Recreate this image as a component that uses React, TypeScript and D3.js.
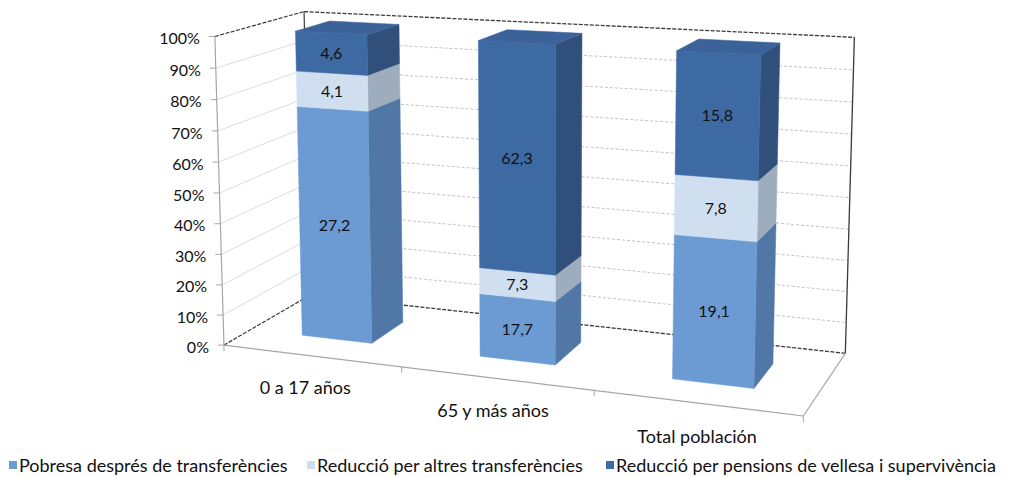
import React from 'react';
import * as d3 from 'd3';

// ---- data ----
const categories = ['0 a 17 años', '65 y más años', 'Total población'];
const seriesNames = [
  'Pobresa després de transferències',
  'Reducció per altres transferències',
  'Reducció per pensions de vellesa i supervivència',
];
const pobresa = [27.2, 17.7, 19.1];
const altres = [4.1, 7.3, 7.8];
const pensions = [4.6, 62.3, 15.8];
const yTicks = [0, 10, 20, 30, 40, 50, 60, 70, 80, 90, 100];

// ---- style ----
const frontColors = ['#6b9bd2', '#cfdff0', '#3e6aa4'];
const sideColors = ['#5077a6', '#9dadbe', '#30507b'];
const topColors = ['#79a7db', '#dfe9f4', '#3b6399'];
const FONT = 'Lato, "Open Sans", sans-serif';

// Camera calibration: world box corners (X: category axis 0..1, Y: value 0..1, Z: depth 0 front..1 back) -> screen
const calib: number[][] = [
  [0, 0, 0, 227, 343],
  [0, 1, 0, 212, 37],
  [0, 0.5, 0, 219.5, 192],
  [0, 1, 1, 307, 11],
  [0, 0, 1, 307, 298],
  [1, 1, 1, 854, 38],
  [1, 0, 1, 846, 350],
  [1, 0, 0, 803, 419],
];

function fitProjection(pts: number[][]) {
  const A: number[][] = [];
  const b: number[] = [];
  for (const [X, Y, Z, u, v] of pts) {
    A.push([X, Y, Z, 1, 0, 0, 0, 0, -u * X, -u * Y, -u * Z]);
    b.push(u);
    A.push([0, 0, 0, 0, X, Y, Z, 1, -v * X, -v * Y, -v * Z]);
    b.push(v);
  }
  const n = 11;
  const M: number[][] = [];
  for (let i = 0; i < n; i++) {
    const row: number[] = [];
    for (let j = 0; j < n; j++) {
      let s = 0;
      for (let k = 0; k < A.length; k++) s += A[k][i] * A[k][j];
      row.push(s);
    }
    let s = 0;
    for (let k = 0; k < A.length; k++) s += A[k][i] * b[k];
    row.push(s);
    M.push(row);
  }
  for (let c = 0; c < n; c++) {
    let p = c;
    for (let r = c + 1; r < n; r++) if (Math.abs(M[r][c]) > Math.abs(M[p][c])) p = r;
    [M[c], M[p]] = [M[p], M[c]];
    for (let r = 0; r < n; r++) {
      if (r === c) continue;
      const f = M[r][c] / M[c][c];
      for (let k = c; k <= n; k++) M[r][k] -= f * M[c][k];
    }
  }
  const P = M.map((row, i) => row[n] / row[i]);
  return (X: number, Y: number, Z: number): [number, number] => {
    const w = P[8] * X + P[9] * Y + P[10] * Z + 1;
    return [
      (P[0] * X + P[1] * Y + P[2] * Z + P[3]) / w,
      (P[4] * X + P[5] * Y + P[6] * Z + P[7]) / w,
    ];
  };
}

const proj = fitProjection(calib);

const xBand = d3.scaleBand<string>().domain(categories).range([0, 1]).paddingInner(0.6).paddingOuter(0.3);
const yScale = d3.scaleLinear().domain([0, 100]).range([0, 1]);
const zFront = 0.3;
const zBack = 0.7;

const pts = (arr: [number, number, number][]) =>
  arr.map((p) => proj(p[0], p[1], p[2]).map((v) => v.toFixed(2)).join(',')).join(' ');

const line = (a: [number, number, number], b: [number, number, number]) => {
  const p = proj(...a);
  const q = proj(...b);
  return { x1: p[0], y1: p[1], x2: q[0], y2: q[1] };
};

export default function App() {
  const seriesValues = [pobresa, altres, pensions];
  const stack = d3
    .stack<number>()
    .keys([0, 1, 2] as any)
    .value((i: number, k: any) => seriesValues[k][i] / (pobresa[i] + altres[i] + pensions[i]) * 100);
  const stacked = stack(categories.map((_, i) => i));

  const fmt = (v: number) => v.toFixed(1).replace('.', ',');

  return (
    <svg width={1010} height={477} style={{ position: 'absolute', left: 0, top: 0, background: '#fff' }}>
      {/* grid lines */}
      {yTicks.map((t) => {
        const y = yScale(t);
        return (
          <g key={'g' + t}>
            {t > 0 && t < 100 && (
              <line {...line([0, y, 1], [1, y, 1])} stroke="#c4c4c4" strokeWidth={1} strokeDasharray="3,2" />
            )}
            {t > 0 && t < 100 && <line {...line([0, y, 0], [0, y, 1])} stroke="#d6dde6" strokeWidth={1} />}
          </g>
        );
      })}
      {/* wall outlines */}
      <line {...line([0, 1, 1], [1, 1, 1])} stroke="#3a3a3a" strokeWidth={1.3} strokeDasharray="4,1.5" />
      <line {...line([1, 1, 1], [1, 0, 1])} stroke="#3a3a3a" strokeWidth={1.3} />
      <line {...line([1, 0, 1], [0, 0, 1])} stroke="#3a3a3a" strokeWidth={1.3} strokeDasharray="4,1.5" />
      <line {...line([0, 0, 1], [0, 1, 1])} stroke="#3a3a3a" strokeWidth={1.2} />
      <line {...line([0, 1, 0], [0, 1, 1])} stroke="#3a3a3a" strokeWidth={1.2} strokeDasharray="4,1.5" />
      <line {...line([0, 0, 0], [0, 0, 1])} stroke="#3a3a3a" strokeWidth={1.2} strokeDasharray="4,1.5" />
      {/* axes */}
      <line {...line([0, 0, 0], [0, 1, 0])} stroke="#a6a6a6" strokeWidth={1.2} />
      <line {...line([0, 0, 0], [1, 0, 0])} stroke="#a6a6a6" strokeWidth={1.2} />
      <line {...line([1, 0, 0], [1, 0, 1])} stroke="#a6a6a6" strokeWidth={1.2} />
      {yTicks.map((t) => {
        const [x, y] = proj(0, yScale(t), 0);
        return (
          <g key={'t' + t}>
            <line x1={x - 6} y1={y} x2={x} y2={y} stroke="#a6a6a6" strokeWidth={1} />
            <text x={x - 15} y={y + 2} dy="0.35em" textAnchor="end" fontFamily={FONT} fontSize={16} fill="#111">
              {t + '%'}
            </text>
          </g>
        );
      })}
      {[0, 1, 2, 3].map((k) => {
        const [x, y] = proj(k / 3, 0, 0);
        return <line key={'ct' + k} x1={x} y1={y} x2={x} y2={y + 6} stroke="#a6a6a6" strokeWidth={1} />;
      })}
      {categories.map((c, i) => {
        const xc = (i + 0.5) / 3;
        const [x, y] = proj(xc, 0, -0.2);
        return (
          <text key={'cl' + c} x={x + 12} y={y + 20} dy="0.35em" textAnchor="middle" fontFamily={FONT} fontSize={18} fill="#111">
            {c}
          </text>
        );
      })}
      {/* bars */}
      {categories.map((c, i) => {
        const x0 = xBand(c)!;
        const x1 = x0 + xBand.bandwidth();
        const segs = stacked.map((s, k) => ({ k, y0: yScale(s[i][0]), y1: yScale(s[i][1]), v: seriesValues[k][i] }));
        const topSeg = segs[segs.length - 1];
        return (
          <g key={'bar' + c}>
            {segs.map((s) => (
              <g key={'s' + s.k}>
                <polygon
                  points={pts([[x1, s.y0, zFront], [x1, s.y0, zBack], [x1, s.y1, zBack], [x1, s.y1, zFront]])}
                  fill={sideColors[s.k]}
                  stroke={sideColors[s.k]}
                  strokeWidth={0.5}
                />
                <polygon
                  points={pts([[x0, s.y0, zFront], [x1, s.y0, zFront], [x1, s.y1, zFront], [x0, s.y1, zFront]])}
                  fill={frontColors[s.k]}
                  stroke={frontColors[s.k]}
                  strokeWidth={0.5}
                />
              </g>
            ))}
            <polygon
              points={pts([[x0, topSeg.y1, zFront], [x1, topSeg.y1, zFront], [x1, topSeg.y1, zBack], [x0, topSeg.y1, zBack]])}
              fill={topColors[topSeg.k]}
              stroke={topColors[topSeg.k]}
              strokeWidth={0.5}
            />
            {segs.map((s) => {
              const [lx, ly] = proj((x0 + x1) / 2, (s.y0 + s.y1) / 2, zFront);
              return (
                <text key={'v' + s.k} x={lx} y={ly} dy="0.35em" textAnchor="middle" fontFamily={FONT} fontSize={16} fill="#111">
                  {fmt(s.v)}
                </text>
              );
            })}
          </g>
        );
      })}
      {/* legend */}
      {seriesNames.map((n, k) => {
        const lx = [9, 307, 606][k];
        return (
          <g key={'lg' + k} transform={`translate(${lx},466)`}>
            <rect x={0} y={-5} width={8} height={8} fill={frontColors[k]} />
            <text x={10} y={0} dy="0.35em" fontFamily={FONT} fontSize={18} fill="#111">
              {n}
            </text>
          </g>
        );
      })}
    </svg>
  );
}
